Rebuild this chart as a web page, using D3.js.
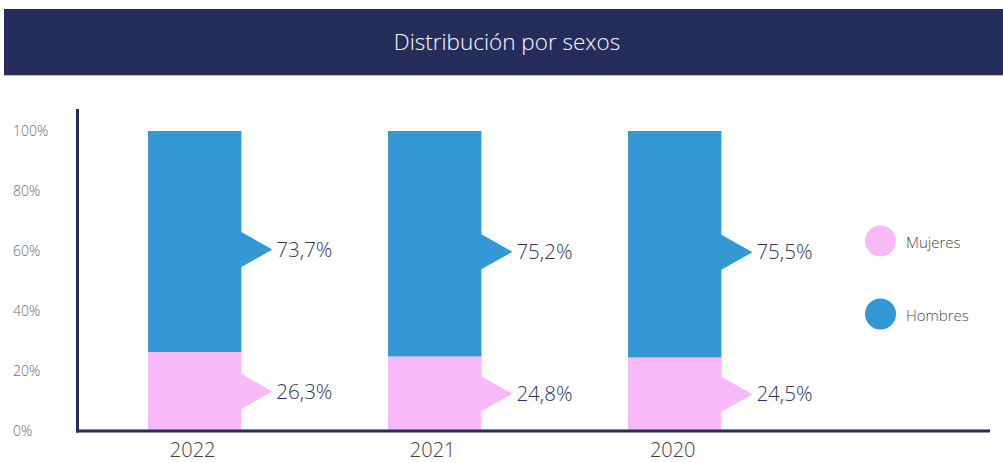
<!DOCTYPE html>
<html>
<head>
<meta charset="utf-8">
<script src="https://cdn.jsdelivr.net/npm/d3@7"></script>
<style>
  html, body { margin: 0; padding: 0; background: #ffffff; }
  svg { display: block; font-family: "Open Sans", "Noto Sans", sans-serif; }
</style>
</head>
<body>
<svg id="chart" width="1003" height="463"></svg>
<script>
// Data
const title = "Distribución por sexos";
const years = ["2022", "2021", "2020"];
const mujeres = [26.3, 24.8, 24.5];
const hombres = [73.7, 75.2, 75.5];
const seriesNames = ["Mujeres", "Hombres"];
const yTicks = [0, 20, 40, 60, 80, 100];

const colors = { Mujeres: "#f9b9f9", Hombres: "#3398d4" };
const navy = "#262d5b";

const svg = d3.select("#chart");
const W = 1003, H = 463;

// Title banner
svg.append("rect")
  .attr("x", 4).attr("y", 9).attr("width", W - 4).attr("height", 66)
  .attr("fill", navy);
svg.append("line")
  .attr("x1", 4).attr("x2", W).attr("y1", 75.5).attr("y2", 75.5)
  .attr("stroke", "#b9bccb").attr("stroke-width", 1);
svg.append("text")
  .attr("x", 507).attr("y", 42).attr("dy", "0.35em")
  .attr("text-anchor", "middle")
  .attr("fill", "#ffffff").attr("font-size", 22.5).attr("font-weight", 300)
  .text(title);

// Scales
const y = d3.scaleLinear().domain([0, 100]).range([431, 131]);
const x = d3.scaleBand().domain(years).range([148, 721.4])
  .paddingInner(0.611).paddingOuter(0);

// Y tick labels
const yAxis = d3.axisLeft(y).tickValues(yTicks).tickSize(0).tickFormat(d => d + "%");
const gy = svg.append("g").attr("transform", "translate(13,0)").call(yAxis);
gy.select(".domain").remove();
gy.selectAll("text")
  .attr("text-anchor", "start").attr("x", 0).attr("dy", "0.35em")
  .attr("fill", "#6b6b6b").attr("font-size", 14)
  .attr("font-family", "'Open Sans', sans-serif").attr("font-weight", 300);

// Stacked data
const rows = years.map((yr, i) => ({ year: yr, Mujeres: mujeres[i], Hombres: hombres[i] }));
const stacked = d3.stack().keys(seriesNames)(rows);

// Bar segment with a pointed callout on its right side
const tipOut = 31, halfArrow = 17.5;
function calloutPath(x0, x1, yTop, yBot, yTip) {
  const p = d3.path();
  p.moveTo(x0, yTop);
  p.lineTo(x1, yTop);
  p.lineTo(x1, yTip - halfArrow);
  p.lineTo(x1 + tipOut, yTip);
  p.lineTo(x1, yTip + halfArrow);
  p.lineTo(x1, yBot);
  p.lineTo(x0, yBot);
  p.closePath();
  return p.toString();
}
// Callout height for each segment
function tipY(key, d) {
  const mid = y((d[0] + d[1]) / 2);
  return key === "Hombres" ? mid + 8 : mid;
}

stacked.forEach(layer => {
  const key = layer.key;
  const g = svg.append("g");
  g.selectAll("path")
    .data(layer)
    .join("path")
    .attr("d", d => {
      const x0 = x(d.data.year), x1 = x0 + x.bandwidth();
      return calloutPath(x0, x1, y(d[1]), y(d[0]), tipY(key, d));
    })
    .attr("fill", colors[key]);
  g.selectAll("text")
    .data(layer)
    .join("text")
    .attr("x", d => x(d.data.year) + x.bandwidth() + tipOut + 4)
    .attr("y", d => tipY(key, d))
    .attr("dy", "0.35em")
    .attr("fill", "#30345a").attr("font-size", 20.5).attr("font-weight", 300)
    .text(d => d3.format(".1f")(d[1] - d[0]).replace(".", ",") + "%");
});

// Axis lines
svg.append("line")
  .attr("x1", 77.5).attr("x2", 77.5).attr("y1", 109).attr("y2", 432.5)
  .attr("stroke", navy).attr("stroke-width", 3);
svg.append("line")
  .attr("x1", 76).attr("x2", 990).attr("y1", 431).attr("y2", 431)
  .attr("stroke", navy).attr("stroke-width", 3);

// X labels
svg.append("g").selectAll("text")
  .data(years)
  .join("text")
  .attr("x", d => x(d) + x.bandwidth() / 2 - 2)
  .attr("y", 457)
  .attr("text-anchor", "middle")
  .attr("fill", "#3d3d3d").attr("font-size", 20).attr("font-weight", 300)
  .text(d => d);

// Legend
const legendY = d3.scalePoint().domain(seriesNames).range([241, 314]);
const lg = svg.append("g");
lg.selectAll("circle")
  .data(seriesNames)
  .join("circle")
  .attr("cx", 880.5).attr("cy", d => legendY(d)).attr("r", 15.5)
  .attr("fill", d => colors[d]);
lg.selectAll("text")
  .data(seriesNames)
  .join("text")
  .attr("x", 906).attr("y", d => legendY(d) + 2).attr("dy", "0.35em")
  .attr("fill", "#4a4a4a").attr("font-size", 15).attr("font-weight", 300)
  .text(d => d);
</script>
</body>
</html>
